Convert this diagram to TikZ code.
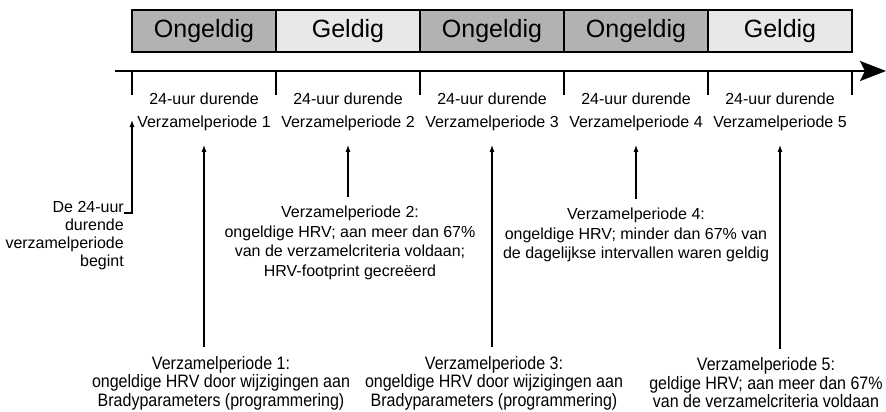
\documentclass[tikz,border=0pt]{standalone}
\usepackage{fontspec}
\setmainfont{Liberation Sans}
\newfontfamily\narrowsans{Liberation Sans}[FakeStretch=0.89]
\usetikzlibrary{arrows.meta, positioning}
\definecolor{invalidgray}{RGB}{178,178,178}
\definecolor{validgray}{RGB}{232,232,232}

\begin{document}
\begin{tikzpicture}[
    x=1pt, y=-1pt,
    statebox/.style={draw=black, line width=1.8pt, outer sep=0pt, minimum width=144pt, minimum height=42pt, font=\fontsize{25}{30}\selectfont},
    invalidbox/.style={statebox, fill=invalidgray},
    validbox/.style={statebox, fill=validgray},
    periodlabel/.style={align=center, inner sep=0pt, font=\fontsize{16}{22.5}\selectfont},
    notetext/.style={align=center, inner sep=0pt, font=\fontsize{16}{19.5}\selectfont},
    lowtext/.style={align=center, inner sep=0pt, font=\narrowsans\fontsize{18}{18.5}\selectfont},
    timeline/.style={line width=2.4pt, -{Stealth[length=26pt, width=20pt, inset=5pt]}},
    tickmark/.style={line width=2pt},
    pointer/.style={line width=1.1pt, -{Latex[length=7pt, width=5pt]}}
]
\useasboundingbox (0,0) rectangle (886,412);

% Validity of each period
\node (b1) [invalidbox] at (204,31) {Ongeldig};
\node (b2) [validbox, right=0pt of b1] {Geldig};
\node (b3) [invalidbox, right=0pt of b2] {Ongeldig};
\node (b4) [invalidbox, right=0pt of b3] {Ongeldig};
\node (b5) [validbox, right=0pt of b4] {Geldig};

% Time axis with ticks
\coordinate (axstart) at (115,71);
\coordinate (axend) at (886,71);
\draw [timeline] (axstart) -- (axend);
\foreach \t [count=\i] in {132,276,420,564,708,852} {
    \coordinate (tk\i) at (\t,71);
    \draw [tickmark] (tk\i) -- ++(0,24);
}

% Period labels
\node (p1) [periodlabel] at (204,112) {24-uur durende\\Verzamelperiode 1};
\node (p2) [periodlabel] at (348,112) {24-uur durende\\Verzamelperiode 2};
\node (p3) [periodlabel] at (492,112) {24-uur durende\\Verzamelperiode 3};
\node (p4) [periodlabel] at (636,112) {24-uur durende\\Verzamelperiode 4};
\node (p5) [periodlabel] at (780,112) {24-uur durende\\Verzamelperiode 5};

% Notes
\node (start) [notetext, align=right, anchor=north east, font=\fontsize{16}{18}\selectfont] at (124,201) {De 24-uur\\durende\\verzamelperiode\\begint};
\node (n2) [notetext] at (350,243) {Verzamelperiode 2:\\ongeldige HRV; aan meer dan 67\%\\van de verzamelcriteria voldaan;\\HRV-footprint gecreëerd};
\node (n4) [notetext] at (636,235) {Verzamelperiode 4:\\ongeldige HRV; minder dan 67\% van\\de dagelijkse intervallen waren geldig};
\node (n1) [lowtext] at (221,383) {Verzamelperiode 1:\\ongeldige HRV door wijzigingen aan\\Bradyparameters (programmering)};
\node (n3) [lowtext] at (494,383) {Verzamelperiode 3:\\ongeldige HRV door wijzigingen aan\\Bradyparameters (programmering)};
\node (n5) [lowtext] at (766,383) {Verzamelperiode 5:\\geldige HRV; aan meer dan 67\%\\van de verzamelcriteria voldaan};

% Pointers
\draw [pointer] ([yshift=-12pt]start.north east) -| ([yshift=-49pt]tk1);
\draw [pointer, shorten <=9pt, shorten >=14pt] (n1.north -| p1.south) -- (p1.south);
\draw [pointer, shorten <=9pt, shorten >=14pt] (n2.north -| p2.south) -- (p2.south);
\draw [pointer, shorten <=9pt, shorten >=14pt] (n3.north -| p3.south) -- (p3.south);
\draw [pointer, shorten <=9pt, shorten >=14pt] (n4.north -| p4.south) -- (p4.south);
\draw [pointer, shorten <=9pt, shorten >=14pt] (n5.north -| p5.south) -- (p5.south);

\end{tikzpicture}
\end{document}
